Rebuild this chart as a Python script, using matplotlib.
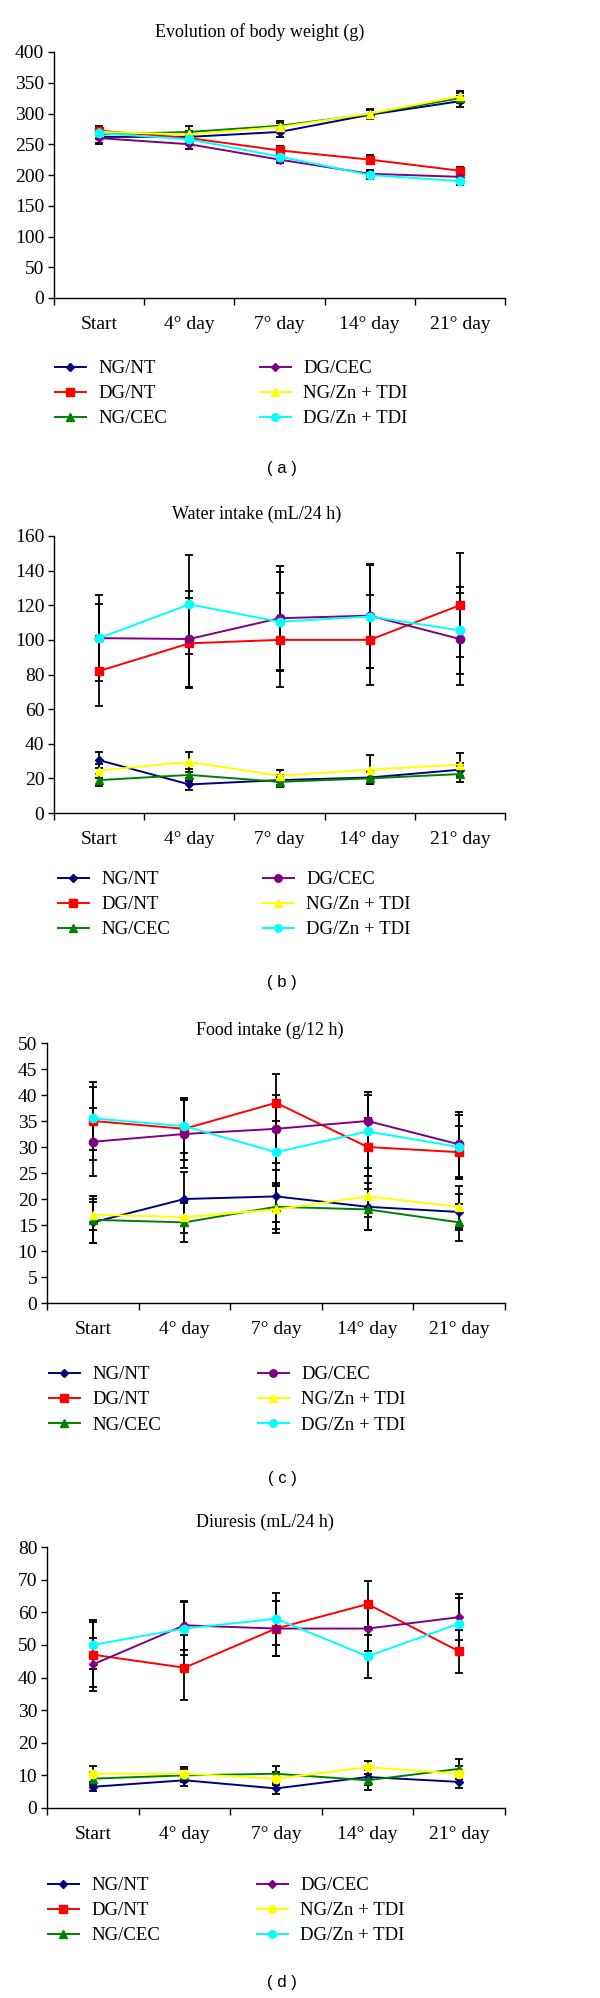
import matplotlib
matplotlib.use("Agg")
import matplotlib.pyplot as plt
from matplotlib.ticker import FixedLocator

plt.rcParams['font.family'] = ['Liberation Serif', 'DejaVu Serif']

days = ['Start', '4° day', '7° day', '14° day', '21° day']
groups = ['NG/NT', 'DG/NT', 'NG/CEC', 'DG/CEC', 'NG/Zn + TDI', 'DG/Zn + TDI']
colors = ['#000080', '#ff0000', '#008000', '#800080', '#ffff00', '#00ffff']

# (a) body weight, g
weight_mean = [
    [262, 262, 270, 298, 320],
    [272, 260, 240, 225, 207],
    [266, 270, 280, 299, 325],
    [260, 250, 225, 202, 197],
    [270, 266, 278, 300, 328],
    [268, 258, 230, 200, 190],
]
weight_err = [
    [10, 6, 9, 7, 9],
    [8, 5, 7, 7, 6],
    [8, 10, 8, 7, 8],
    [9, 8, 6, 6, 5],
    [7, 6, 7, 8, 9],
    [6, 6, 6, 7, 7],
]

# (b) water intake, mL/24 h
water_mean = [
    [30.5, 16.5, 19, 20.5, 25],
    [82, 98, 100, 100, 120],
    [19, 22, 18, 20, 22.5],
    [101, 100.5, 112.5, 114, 100.5],
    [24.5, 29.5, 21.5, 25, 28],
    [101, 120.5, 110.5, 113.5, 105.5],
]
water_err = [
    [4.5, 3.5, 3, 4, 4],
    [20, 26, 27, 26, 30],
    [3.5, 3.5, 3, 3.5, 4.5],
    [25, 28, 30, 30, 26.5],
    [4, 6, 3.5, 8.5, 6.5],
    [20, 28.5, 28.5, 30, 25],
]

# (c) food intake, g/12 h
food_mean = [
    [15.5, 20, 20.5, 18.5, 17.5],
    [35, 33.5, 38.5, 30, 29],
    [16, 15.5, 18.5, 18, 15.5],
    [31, 32.5, 33.5, 35, 30.5],
    [17, 16.5, 18, 20.5, 18.5],
    [35.5, 34, 29, 33, 30],
]
food_err = [
    [4, 5.2, 5, 4.5, 3.5],
    [7.5, 6, 5.5, 5.5, 5],
    [4.5, 3.7, 4.2, 4, 3.5],
    [6.5, 6.5, 6.5, 5.5, 6.2],
    [3, 3, 4.5, 4, 4],
    [6, 5.2, 6, 7, 6.2],
]

# (d) diuresis, mL/24 h
diuresis_mean = [
    [6.5, 8.5, 6, 9.5, 8],
    [47, 43, 55, 62.5, 48],
    [9, 10, 10.5, 8.5, 12],
    [44, 56, 55, 55, 58.5],
    [10.5, 10.5, 9, 12.5, 10.5],
    [50, 55, 58, 46.5, 56.5],
]
diuresis_err = [
    [1.2, 1.8, 1.8, 2.5, 2],
    [10, 10, 8.5, 7, 6.5],
    [2, 2, 2.5, 3, 3],
    [8, 7.5, 8.5, 7, 7],
    [2.5, 2, 2, 2, 2.5],
    [7.5, 8, 8, 6.5, 8],
]

W, H = 600, 1998
fig = plt.figure(figsize=(W / 100, H / 100), dpi=100)


def px(x0, y0, x1, y1):
    return [x0 / W, 1 - y1 / H, (x1 - x0) / W, (y1 - y0) / H]


panels = [
    dict(title='Evolution of body weight (g)', mean=weight_mean, err=weight_err,
         ymax=400, ystep=50, box=(54, 52, 505, 298), title_xy=(260, 32),
         markers=['D', 's', '^', 'D', '^', 'o'], sizes=[4, 6, 6, 4, 6, 6],
         leg=(55, 260, 360), tag='( a )', tag_y=468),
    dict(title='Water intake (mL/24 h)', mean=water_mean, err=water_err,
         ymax=160, ystep=20, box=(54, 536, 505, 813), title_xy=(257, 514),
         markers=['D', 's', '^', 'o', '^', 'o'], sizes=[4, 6, 6, 6, 6, 6],
         leg=(58, 263, 871), tag='( b )', tag_y=983),
    dict(title='Food intake (g/12 h)', mean=food_mean, err=food_err,
         ymax=50, ystep=5, box=(47, 1043, 505, 1303), title_xy=(270, 1030),
         markers=['D', 's', '^', 'o', '^', 'o'], sizes=[4, 6, 6, 6, 6, 6],
         leg=(49, 258, 1366), tag='( c )', tag_y=1478),
    dict(title='Diuresis (mL/24 h)', mean=diuresis_mean, err=diuresis_err,
         ymax=80, ystep=10, box=(47, 1547, 505, 1808), title_xy=(265, 1522),
         markers=['D', 's', '^', 'D', 'o', 'o'], sizes=[4, 6, 6, 4, 6, 6],
         leg=(48, 257, 1877), tag='( d )', tag_y=1983),
]

x = list(range(len(days)))

for p in panels:
    ax = fig.add_axes(px(*p['box']))
    handles = []
    for i, g in enumerate(groups):
        eb = ax.errorbar(x, p['mean'][i], yerr=p['err'][i], color=colors[i],
                         marker=p['markers'][i], markersize=p['sizes'][i],
                         linewidth=1.4, ecolor='black', elinewidth=1.3,
                         capsize=3, capthick=1.3, label=g)
        handles.append(eb[0])
    ax.set_xlim(-0.5, 4.5)
    ax.set_ylim(0, p['ymax'])
    ax.set_yticks(range(0, p['ymax'] + 1, p['ystep']))
    ax.set_xticks(x)
    ax.set_xticklabels(days)
    ax.xaxis.set_minor_locator(FixedLocator([-0.5, 0.5, 1.5, 2.5, 3.5, 4.5]))
    ax.tick_params(axis='x', which='major', length=0, pad=13, labelsize=14)
    ax.tick_params(axis='x', which='minor', length=5, width=1, direction='out')
    ax.tick_params(axis='y', length=4, width=1, direction='out', pad=3, labelsize=14)
    for s in ['top', 'right']:
        ax.spines[s].set_visible(False)
    for s in ['left', 'bottom']:
        ax.spines[s].set_linewidth(1)

    fig.text(p['title_xy'][0] / W, 1 - p['title_xy'][1] / H, p['title'],
             ha='center', va='center', fontsize=13)

    x1, x2, ytop = p['leg']
    for col, (hs, ls) in enumerate([(handles[:3], groups[:3]), (handles[3:], groups[3:])]):
        fig.legend(hs, ls, loc='upper left',
                   bbox_to_anchor=((x1 if col == 0 else x2) / W, 1 - ytop / H),
                   bbox_transform=fig.transFigure, frameon=False, fontsize=13.5,
                   handlelength=1.65, handletextpad=0.65, labelspacing=0.43,
                   borderpad=0, borderaxespad=0, markerscale=0.9)

    fig.text(282 / W, 1 - p['tag_y'] / H, p['tag'], ha='center', va='center',
             fontsize=12, family='Liberation Sans')

fig.savefig('out.png', dpi=100)
